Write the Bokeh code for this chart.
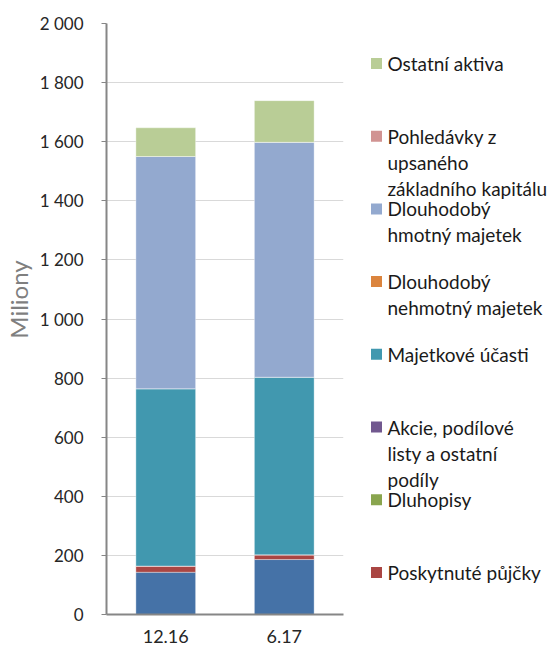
import math
from bokeh.plotting import figure
from bokeh.models import ColumnDataSource, FactorRange, Range1d, FixedTicker
from bokeh.layouts import row
from bokeh.core.properties import value
from bokeh.embed import file_html
from bokeh.resources import INLINE

# ---- data ----
categories = ["12.16", "6.17"]
series_names = [
    "Ostatní (pokladna)",
    "Poskytnuté půjčky",
    "Dluhopisy",
    "Akcie, podílové listy a ostatní podíly",
    "Majetkové účasti",
    "Dlouhodobý nehmotný majetek",
    "Dlouhodobý hmotný majetek",
    "Pohledávky z upsaného základního kapitálu",
    "Ostatní aktiva",
]
s_bottom = [143, 186]
s_pujcky = [21, 16]
s_dluhopisy = [0, 0]
s_akcie = [0, 0]
s_ucasti = [600, 601]
s_nehmotny = [0, 0]
s_hmotny = [786, 795]
s_pohledavky = [0, 0]
s_ostatni = [97, 141]

colors = ["#4572A7", "#AA4643", "#89A54E", "#71588F", "#4198AF",
          "#DB843D", "#93A9CF", "#D19392", "#B9CD96"]

y_ticks = [0, 200, 400, 600, 800, 1000, 1200, 1400, 1600, 1800, 2000]
y_tick_labels = ["0", "200", "400", "600", "800", "1 000", "1 200",
                 "1 400", "1 600", "1 800", "2 000"]
y_title = "Miliony"

legend_labels = [
    "Ostatní aktiva",
    "Pohledávky z\nupsaného\nzákladního kapitálu",
    "Dlouhodobý\nhmotný majetek",
    "Dlouhodobý\nnehmotný majetek",
    "Majetkové účasti",
    "Akcie, podílové\nlisty a ostatní\npodíly",
    "Dluhopisy",
    "Poskytnuté půjčky",
]
legend_colors = ["#B9CD96", "#D19392", "#93A9CF", "#DB843D",
                 "#4198AF", "#71588F", "#89A54E", "#AA4643"]

FONT = "Lato"

keys = ["s%d" % i for i in range(len(series_names))]
data = {"cat": categories}
for k, vals in zip(keys, [s_bottom, s_pujcky, s_dluhopisy, s_akcie, s_ucasti,
                          s_nehmotny, s_hmotny, s_pohledavky, s_ostatni]):
    data[k] = vals
source = ColumnDataSource(data)

H = 649
TOP, BOTTOM = 23, 35
TITLE_W, MAIN_W = 36, 322
LEG_W = 557 - TITLE_W - MAIN_W

# ---- y-axis title panel ----
tf = figure(width=TITLE_W, height=H, x_range=Range1d(0, TITLE_W),
            y_range=Range1d(H - BOTTOM, TOP), output_backend="svg",
            toolbar_location=None, x_axis_location=None, y_axis_location=None,
            min_border_left=0, min_border_right=0, min_border_top=TOP,
            min_border_bottom=BOTTOM, outline_line_color=None)
tf.grid.visible = False
tf.text(x=[18], y=[299], text=[y_title], angle=math.pi / 2,
        text_font=value(FONT), text_font_size="24px", text_color="#7f7f7f",
        text_align="center", text_baseline="middle")

# ---- main chart ----
p = figure(x_range=FactorRange(*categories, range_padding=0),
           y_range=Range1d(0, 2000),
           width=MAIN_W, height=H, output_backend="svg", toolbar_location=None,
           min_border_left=105 - TITLE_W, min_border_right=15,
           min_border_top=TOP, min_border_bottom=BOTTOM)
p.x_range.factor_padding = 0
p.vbar_stack(keys, x="cat", width=0.504, color=colors, source=source,
             line_color="white", line_alpha=0.35, line_width=1)

p.outline_line_color = None
p.xgrid.grid_line_color = None
p.ygrid.grid_line_color = "#d9d9d9"
p.ygrid.grid_line_width = 1
p.yaxis.ticker = FixedTicker(ticks=y_ticks)
p.yaxis.major_label_overrides = {t: l for t, l in zip(y_ticks, y_tick_labels)}
p.yaxis.axis_line_color = "#868686"
p.yaxis.axis_line_width = 2
p.yaxis.major_tick_line_color = "#868686"
p.yaxis.major_tick_out = 5
p.yaxis.major_tick_in = 0
p.yaxis.minor_tick_line_color = None
p.yaxis.major_label_standoff = 18
p.yaxis.major_label_text_font = FONT
p.yaxis.major_label_text_font_size = "17px"
p.yaxis.major_label_text_color = "#262626"

p.xaxis.axis_line_color = "#868686"
p.xaxis.axis_line_width = 2
p.xaxis.major_tick_line_color = None
p.xaxis.major_tick_out = 0
p.xaxis.major_tick_in = 0
p.xaxis.major_label_standoff = 15
p.xaxis.major_label_text_font = FONT
p.xaxis.major_label_text_font_size = "18px"
p.xaxis.major_label_text_color = "#262626"

# ---- legend panel (coordinates = page pixels) ----
x0 = TITLE_W + MAIN_W
lg = figure(width=LEG_W, height=H, x_range=Range1d(x0, x0 + LEG_W),
            y_range=Range1d(H - BOTTOM, TOP),
            output_backend="svg", toolbar_location=None,
            x_axis_location=None, y_axis_location=None,
            min_border_left=0, min_border_right=0, min_border_top=TOP,
            min_border_bottom=BOTTOM, outline_line_color=None)
lg.grid.visible = False

entry_step = 72.7
first_y = 63
line_step = 26
sq_x, sq_y, tx, ty, tt = [], [], [], [], []
for i, lab in enumerate(legend_labels):
    y0 = first_y + i * entry_step
    sq_x.append(376)
    sq_y.append(y0)
    for j, line in enumerate(lab.split("\n")):
        tx.append(387)
        ty.append(y0 + j * line_step)
        tt.append(line)
lg.scatter(x=sq_x, y=sq_y, marker="square", size=11, color=legend_colors,
           line_color=None)
lg.text(x=tx, y=ty, text=tt, text_font=value(FONT), text_font_size="19px",
        text_baseline="middle", text_align="left", text_color="#1a1a1a")

layout = row(tf, p, lg)
open("out.html", "w").write(file_html(layout, INLINE))
